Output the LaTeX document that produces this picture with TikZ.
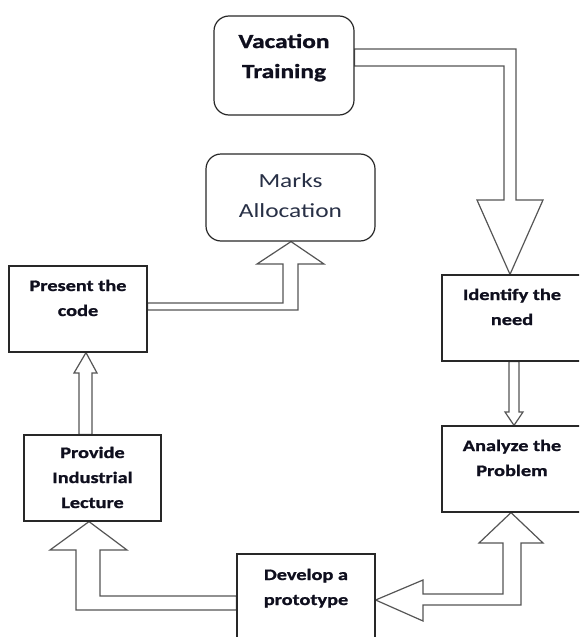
\documentclass[tikz,border=0pt]{standalone}
\usepackage{fontspec}
\setmainfont{Carlito}[FakeStretch=1.27, BoldFeatures={FakeBold=1.2}]
\usetikzlibrary{backgrounds}
\definecolor{boxc}{RGB}{40,40,40}
\definecolor{arrc}{RGB}{85,85,85}
\definecolor{txtc}{RGB}{15,15,30}
\definecolor{marksc}{RGB}{40,48,70}
\newcommand{\boxtxt}[4]{\parbox[c][#2][t]{#1}{\centering\rule{0pt}{#3}#4}}
\tikzset{
  sbox/.style={draw=boxc, line width=1.2pt, fill=white, inner sep=0pt, text=txtc,
    font=\fontsize{16}{25}\selectfont\bfseries},
  rbox/.style={sbox, rounded corners=15pt, font=\fontsize{20}{30}\selectfont},
  arr/.style={draw=arrc, line width=1.2pt, fill=white, line join=miter},
}
\begin{document}
\begin{tikzpicture}[x=1pt,y=-1pt]
\useasboundingbox (0,0) rectangle (579,637);
\clip (0,0) rectangle (579,637);
% nodes
\node[rbox, font=\fontsize{20}{30}\selectfont\bfseries] (vac) at (284,65.5)
  {\boxtxt{140pt}{99pt}{32pt}{Vacation\\Training}};
\node[rbox, text=marksc] (marks) at (290.5,197.5)
  {\boxtxt{169pt}{87pt}{33pt}{Marks\\Allocation}};
\node[sbox] (present) at (78,309)
  {\boxtxt{138pt}{86pt}{25pt}{Present the\\code}};
\node[sbox] (identify) at (512,318)
  {\boxtxt{140pt}{86pt}{25pt}{Identify the\\need}};
\node[sbox] (analyze) at (512,469)
  {\boxtxt{140pt}{86pt}{25pt}{Analyze the\\Problem}};
\node[sbox] (provide) at (92.5,478)
  {\boxtxt{137pt}{86pt}{23pt}{Provide\\Industrial\\Lecture}};
\node[sbox] (develop) at (306,597)
  {\boxtxt{138pt}{86pt}{26pt}{Develop a\\prototype}};
% block arrows
\begin{scope}[on background layer]
\draw[arr] (vac.east |- 0,49) -- (516,49) -- (516,200) -- (543,200)
  -- (identify.north -| 510,0) -- (477,200) -- (504,200) -- (504,66)
  -- (vac.east |- 0,66) -- cycle;
\draw[arr] (identify.south -| 509,0) -- (509,412) -- (505,412)
  -- (analyze.north -| 514,0) -- (523,412) -- (519,412)
  -- (identify.south -| 519,0) -- cycle;
\draw[arr] (analyze.south -| 511,0) -- (543,543) -- (521,543) -- (521,605)
  -- (423,605) -- (423,621) -- (develop.east |- 0,600) -- (423,580)
  -- (423,594) -- (503,594) -- (503,543) -- (479,543) -- cycle;
\draw[arr] (develop.west |- 0,596) -- (100,596) -- (100,550) -- (127,550)
  -- (provide.south -| 89,0) -- (50,550) -- (76,550) -- (76,610)
  -- (develop.west |- 0,610) -- cycle;
\draw[arr] (provide.north -| 79,0) -- (79,373) -- (74,373)
  -- (present.south -| 86,0) -- (97,373) -- (92,373)
  -- (provide.north -| 92,0) -- cycle;
\draw[arr] (present.east |- 0,303) -- (283,303) -- (283,264) -- (257,264)
  -- (marks.south -| 291,0) -- (324,264) -- (298,264) -- (298,310)
  -- (present.east |- 0,310) -- cycle;
\end{scope}
\end{tikzpicture}
\end{document}
